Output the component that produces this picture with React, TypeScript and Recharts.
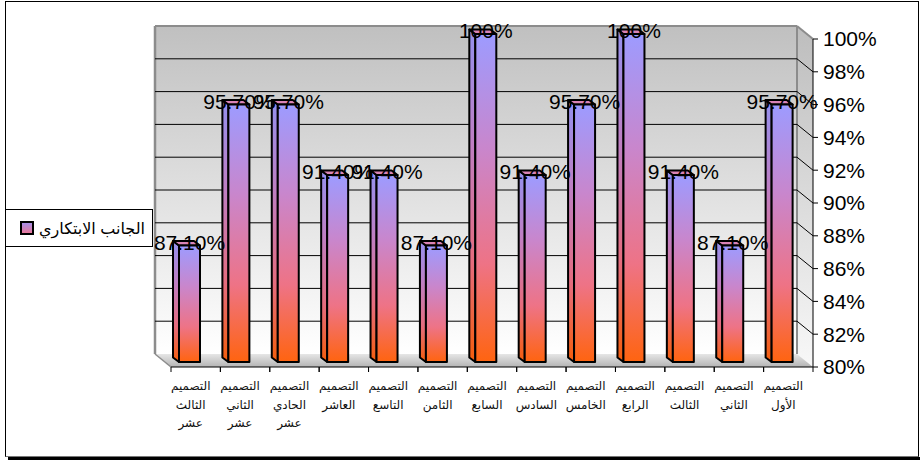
import React from 'react';
import { BarChart, Bar, XAxis, YAxis, CartesianGrid, LabelList } from 'recharts';

// Categories (design numbers) and their creativity scores, in percent
const categories = [
  'التصميم الأول',
  'التصميم الثاني',
  'التصميم الثالث',
  'التصميم الرابع',
  'التصميم الخامس',
  'التصميم السادس',
  'التصميم السابع',
  'التصميم الثامن',
  'التصميم التاسع',
  'التصميم العاشر',
  'التصميم الحادي عشر',
  'التصميم الثاني عشر',
  'التصميم الثالث عشر',
];
const scores = [95.7, 87.1, 91.4, 100, 95.7, 91.4, 100, 87.1, 91.4, 91.4, 95.7, 95.7, 87.1];
const yTicks = [80, 82, 84, 86, 88, 90, 92, 94, 96, 98, 100];
const seriesName = 'الجانب الابتكاري';

const data = categories.map((name, i) => ({ name, value: scores[i] }));

const W = 920;
const H = 460;
const MARGIN = { top: 39, right: 47, bottom: 23, left: 171 };
const Y_AXIS_W = 60;
const X_AXIS_H = 70;
const X_TICK_SIZE = 6;
const X_TICK_MARGIN = 2;

// depth of the 3-D walls (back wall is shifted up-left from the front plane)
const WALL_DX = 16;
const WALL_DY = 13;
// bars stand half-way into the depth, and have their own small depth
const BAR_SHIFT_X = 6;
const BAR_SHIFT_Y = 5;
const BAR_DX = 6;
const BAR_DY = 4.5;

const FONT = '"Liberation Sans", Arial, "DejaVu Sans", sans-serif';

const fmtPct = (v: number) => (Number.isInteger(v) ? `${v}%` : `${v.toFixed(2)}%`);

// Walls, floor and gridlines of the 3-D box, drawn through the grid's horizontal lines
const GridLine = (props: any) => {
  const { x1, x2, y1, index } = props;
  const plotH = H - MARGIN.top - MARGIN.bottom - X_AXIS_H;
  const top: number = typeof props.y === 'number' ? props.y : MARGIN.top;
  const height: number = typeof props.height === 'number' ? props.height : plotH;
  const left: number = typeof x1 === 'number' ? x1 : MARGIN.left;
  const right: number = typeof x2 === 'number' ? x2 : W - MARGIN.right - Y_AXIS_W;
  const bottom = top + height;
  const isTop = Math.abs(y1 - top) < 0.5;
  const isBottom = Math.abs(y1 - bottom) < 0.5;
  const bx1 = left - WALL_DX;
  const bx2 = right - WALL_DX;
  const by = y1 - WALL_DY;
  const edge = '#8c8c8c';
  return (
    <g>
      {index === 0 && (
        <g>
          <rect x={bx1} y={top - WALL_DY} width={right - left} height={height} fill="url(#wallGrad)" />
          <polygon
            points={`${bx2},${top - WALL_DY} ${right},${top} ${right},${bottom} ${bx2},${bottom - WALL_DY}`}
            fill="url(#sideGrad)"
          />
          <polygon
            points={`${bx1},${bottom - WALL_DY} ${bx2},${bottom - WALL_DY} ${right},${bottom} ${left},${bottom}`}
            fill="url(#floorGrad)"
          />
          <line x1={bx1} y1={top - WALL_DY} x2={bx1} y2={bottom - WALL_DY} stroke={edge} strokeWidth={2.5} />
          <line x1={bx1} y1={top - WALL_DY} x2={bx2} y2={top - WALL_DY} stroke={edge} strokeWidth={2} />
          <line x1={bx2} y1={top - WALL_DY} x2={bx2} y2={bottom - WALL_DY} stroke={edge} strokeWidth={2} />
          <line x1={bx2} y1={top - WALL_DY} x2={right} y2={top} stroke={edge} strokeWidth={2} />
          <line x1={bx1} y1={bottom - WALL_DY} x2={left} y2={bottom} stroke={edge} strokeWidth={1.5} />
        </g>
      )}
      {!isTop && !isBottom && (
        <g>
          <line x1={bx1} y1={by} x2={bx2} y2={by} stroke="#000" strokeWidth={1} />
          <line x1={bx2} y1={by} x2={right} y2={y1} stroke="#000" strokeWidth={1} />
        </g>
      )}
    </g>
  );
};

// 3-D column: left side face, top face and front face
const Box3D = (props: any) => {
  const { x, y, width, height } = props;
  if (typeof x !== 'number' || typeof height !== 'number' || height <= 0) return null;
  const fx = x - BAR_SHIFT_X;
  const fy = y - BAR_SHIFT_Y;
  const w = width;
  const h = height;
  const side = `${fx - BAR_DX},${fy - BAR_DY} ${fx},${fy} ${fx},${fy + h} ${fx - BAR_DX},${fy + h - BAR_DY}`;
  const topFace = `${fx},${fy} ${fx - BAR_DX},${fy - BAR_DY} ${fx + w - BAR_DX},${fy - BAR_DY} ${fx + w},${fy}`;
  return (
    <g stroke="#000" strokeWidth={2} strokeLinejoin="round">
      <polygon points={side} fill="url(#sideBarGrad)" />
      <polygon points={topFace} fill="#D983B6" />
      <rect x={fx} y={fy} width={w} height={h} fill="url(#barGrad)" />
    </g>
  );
};

const ValueLabel = (props: any) => {
  const { x, y, width, value } = props;
  if (typeof x !== 'number') return null;
  return (
    <text
      x={x + width / 2 - BAR_SHIFT_X}
      y={y - 8.5}
      textAnchor="middle"
      dominantBaseline="central"
      fontSize={21}
      fontFamily={FONT}
      fill="#000"
    >
      {fmtPct(Number(value))}
    </text>
  );
};

// Category label: one word per line, plus tick marks at the band edges
const CategoryTick = (props: any) => {
  const { x, y, payload } = props;
  const half = typeof payload?.offset === 'number' && payload.offset > 0 ? payload.offset : 24.7;
  const axisY = y - X_TICK_SIZE - X_TICK_MARGIN;
  const words = String(payload.value).split(' ');
  return (
    <g>
      <line x1={x - half} y1={axisY} x2={x - half} y2={axisY + 5} stroke="#000" />
      <line x1={x + half} y1={axisY} x2={x + half} y2={axisY + 5} stroke="#000" />
      <text x={x - 5} y={axisY + 23} textAnchor="middle" fontSize={12} fontFamily={FONT} fill="#111" direction="rtl">
        {words.map((w, i) => (
          <tspan key={i} x={x - 5} dy={i === 0 ? 0 : 18.5}>
            {w}
          </tspan>
        ))}
      </text>
    </g>
  );
};

export default function App() {
  return (
    <div style={{ position: 'absolute', left: 0, top: 0, width: W, height: H, background: '#fff' }}>
      {/* chart area frame with its drop shadow */}
      <div style={{ position: 'absolute', left: 8, top: 457, width: 912, height: 3, background: '#000' }} />
      <div
        style={{
          position: 'absolute',
          left: 5,
          top: 1,
          width: 912,
          height: 454,
          border: '1px solid #000',
          borderBottomColor: '#777',
          background: '#fff',
        }}
      />
      <div style={{ position: 'absolute', left: 0, top: 0 }}>
        <BarChart width={W} height={H} data={data} margin={MARGIN}>
          <defs>
            <linearGradient id="barGrad" x1="0" y1="0" x2="0" y2="1">
              <stop offset="0" stopColor="#9D9BFF" />
              <stop offset="0.35" stopColor="#C986CC" />
              <stop offset="0.7" stopColor="#EE7386" />
              <stop offset="1" stopColor="#FF6410" />
            </linearGradient>
            <linearGradient id="sideBarGrad" x1="0" y1="0" x2="0" y2="1">
              <stop offset="0" stopColor="#9591F0" />
              <stop offset="0.35" stopColor="#C07EC2" />
              <stop offset="0.7" stopColor="#E56C7E" />
              <stop offset="1" stopColor="#F55E0C" />
            </linearGradient>
            <linearGradient id="wallGrad" x1="0" y1="0" x2="0" y2="1">
              <stop offset="0" stopColor="#C0C0C0" />
              <stop offset="1" stopColor="#FFFFFF" />
            </linearGradient>
            <linearGradient id="sideGrad" x1="0" y1="0" x2="0" y2="1">
              <stop offset="0" stopColor="#BDBDBD" />
              <stop offset="1" stopColor="#F8F8F8" />
            </linearGradient>
            <linearGradient id="floorGrad" x1="0" y1="0" x2="0" y2="1">
              <stop offset="0" stopColor="#E6E6E6" />
              <stop offset="1" stopColor="#B4B4B4" />
            </linearGradient>
          </defs>
          <CartesianGrid horizontal={(p: any) => <GridLine key={p.key} {...p} />} vertical={false} />
          <XAxis
            dataKey="name"
            reversed
            interval={0}
            height={X_AXIS_H}
            tickLine={false}
            tickSize={X_TICK_SIZE}
            tickMargin={X_TICK_MARGIN}
            axisLine={{ stroke: '#000', strokeWidth: 1 }}
            tick={<CategoryTick />}
          />
          <YAxis
            orientation="right"
            width={Y_AXIS_W}
            domain={[80, 100]}
            ticks={yTicks}
            interval={0}
            tickFormatter={(v: number) => `${v}%`}
            axisLine={{ stroke: '#000', strokeWidth: 1 }}
            tickLine={{ stroke: '#000' }}
            tickSize={5}
            tickMargin={5}
            tick={{ fill: '#000', fontSize: 21, fontFamily: FONT, textAnchor: 'start' }}
          />
          <Bar dataKey="value" name={seriesName} barSize={21} shape={<Box3D />} isAnimationActive={false}>
            <LabelList dataKey="value" content={<ValueLabel />} />
          </Bar>
        </BarChart>
      </div>
      {/* legend box */}
      <div
        style={{
          position: 'absolute',
          left: 5,
          top: 209,
          width: 148,
          height: 38,
          border: '1px solid #000',
          background: '#fff',
          boxSizing: 'border-box',
          display: 'flex',
          alignItems: 'center',
          paddingLeft: 14,
          fontFamily: FONT,
        }}
      >
        <span
          style={{
            display: 'inline-block',
            width: 10,
            height: 10,
            border: '2px solid #000',
            background: 'linear-gradient(#A98FE8, #E8789A)',
            marginRight: 5,
          }}
        />
        <span style={{ fontSize: 16, color: '#000', direction: 'rtl', whiteSpace: 'nowrap' }}>{seriesName}</span>
      </div>
    </div>
  );
}
